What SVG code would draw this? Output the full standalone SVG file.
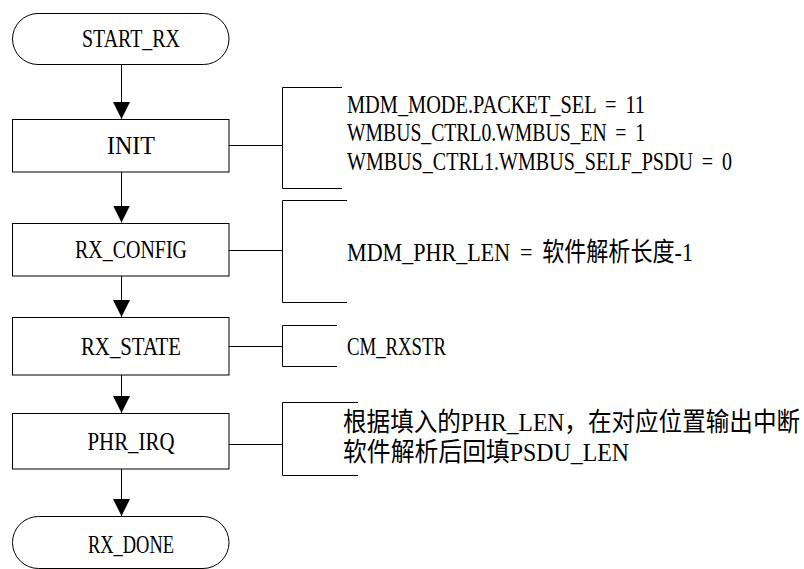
<svg xmlns="http://www.w3.org/2000/svg" width="804" height="569" viewBox="0 0 804 569">
<defs>
<style>
.n{fill:#fff;stroke:#000;stroke-width:1}
.l{fill:none;stroke:#000;stroke-width:1}
.t{font-family:"Liberation Serif","Noto Sans CJK SC",serif;font-size:26px;word-spacing:5px;fill:#000}
.c{text-anchor:middle}
</style>
<marker id="ah" markerUnits="userSpaceOnUse" markerWidth="18" markerHeight="18" viewBox="0 0 18 18" refX="17" refY="9" orient="auto">
<polygon points="0,0.5 17,9 0,17.5" fill="#000"/>
</marker>
</defs>
<rect width="804" height="569" fill="#fff"/>
<g id="connectors">
<line class="l" x1="121.5" y1="64" x2="121.5" y2="119" marker-end="url(#ah)"/>
<line class="l" x1="121.5" y1="172" x2="121.5" y2="222.5" marker-end="url(#ah)"/>
<line class="l" x1="121.5" y1="276" x2="121.5" y2="317" marker-end="url(#ah)"/>
<line class="l" x1="121.5" y1="375" x2="121.5" y2="413" marker-end="url(#ah)"/>
<line class="l" x1="121.5" y1="469" x2="121.5" y2="516" marker-end="url(#ah)"/>
<line class="l" x1="229" y1="145.5" x2="282" y2="145.5"/>
<line class="l" x1="229" y1="250.5" x2="282" y2="250.5"/>
<line class="l" x1="229" y1="346.5" x2="282" y2="346.5"/>
<line class="l" x1="229" y1="444.5" x2="282" y2="444.5"/>
</g>
<g id="START_RX">
<rect class="n" x="12.5" y="13.5" width="216.5" height="51" rx="25.5"/>
<text class="t c" x="131" y="47" textLength="98" lengthAdjust="spacingAndGlyphs">START_RX</text>
</g>
<g id="INIT">
<rect class="n" x="12.5" y="119.5" width="216.5" height="52.5"/>
<text class="t c" x="131" y="154" textLength="48" lengthAdjust="spacingAndGlyphs">INIT</text>
</g>
<g id="RX_CONFIG">
<rect class="n" x="12.5" y="223.5" width="216.5" height="52.5"/>
<text class="t c" x="131" y="258" textLength="112" lengthAdjust="spacingAndGlyphs">RX_CONFIG</text>
</g>
<g id="RX_STATE">
<rect class="n" x="12.5" y="317.5" width="216.5" height="57.5"/>
<text class="t c" x="131" y="354.5" textLength="100" lengthAdjust="spacingAndGlyphs">RX_STATE</text>
</g>
<g id="PHR_IRQ">
<rect class="n" x="12.5" y="413.5" width="216.5" height="55.5"/>
<text class="t c" x="131" y="450" textLength="87" lengthAdjust="spacingAndGlyphs">PHR_IRQ</text>
</g>
<g id="RX_DONE">
<rect class="n" x="12.5" y="516.5" width="216.5" height="52" rx="26"/>
<text class="t c" x="131" y="553" textLength="86" lengthAdjust="spacingAndGlyphs">RX_DONE</text>
</g>
<g id="INIT_note">
<path class="l" d="M342,87.5 H282.5 V188.5 H342"/>
<text class="t" x="347" y="113" textLength="298" lengthAdjust="spacingAndGlyphs">MDM_MODE.PACKET_SEL = 11</text>
<text class="t" x="347" y="141" textLength="298" lengthAdjust="spacingAndGlyphs">WMBUS_CTRL0.WMBUS_EN = 1</text>
<text class="t" transform="translate(347,170) scale(0.772,1)" x="0" y="0" textLength="498.7" lengthAdjust="spacingAndGlyphs">WMBUS_CTRL1.WMBUS_SELF_PSDU = 0</text>
</g>
<g id="RX_CONFIG_note">
<path class="l" d="M347,200.5 H282.5 V302.5 H347"/>
<text class="t" x="347" y="261" textLength="346" lengthAdjust="spacingAndGlyphs">MDM_PHR_LEN = 软件解析长度-1</text>
</g>
<g id="RX_STATE_note">
<path class="l" d="M337,325.5 H282.5 V366.5 H337"/>
<text class="t" x="347" y="355" textLength="99" lengthAdjust="spacingAndGlyphs">CM_RXSTR</text>
</g>
<g id="PHR_IRQ_note">
<path class="l" d="M358,402.5 H282.5 V475.5 H358"/>
<text class="t" transform="translate(343,431) scale(0.907,1)" x="0" y="0" textLength="503.9" lengthAdjust="spacingAndGlyphs">根据填入的PHR_LEN，在对应位置输出中断</text>
<text class="t" x="343" y="461" textLength="286" lengthAdjust="spacingAndGlyphs">软件解析后回填PSDU_LEN</text>
</g>
</svg>
